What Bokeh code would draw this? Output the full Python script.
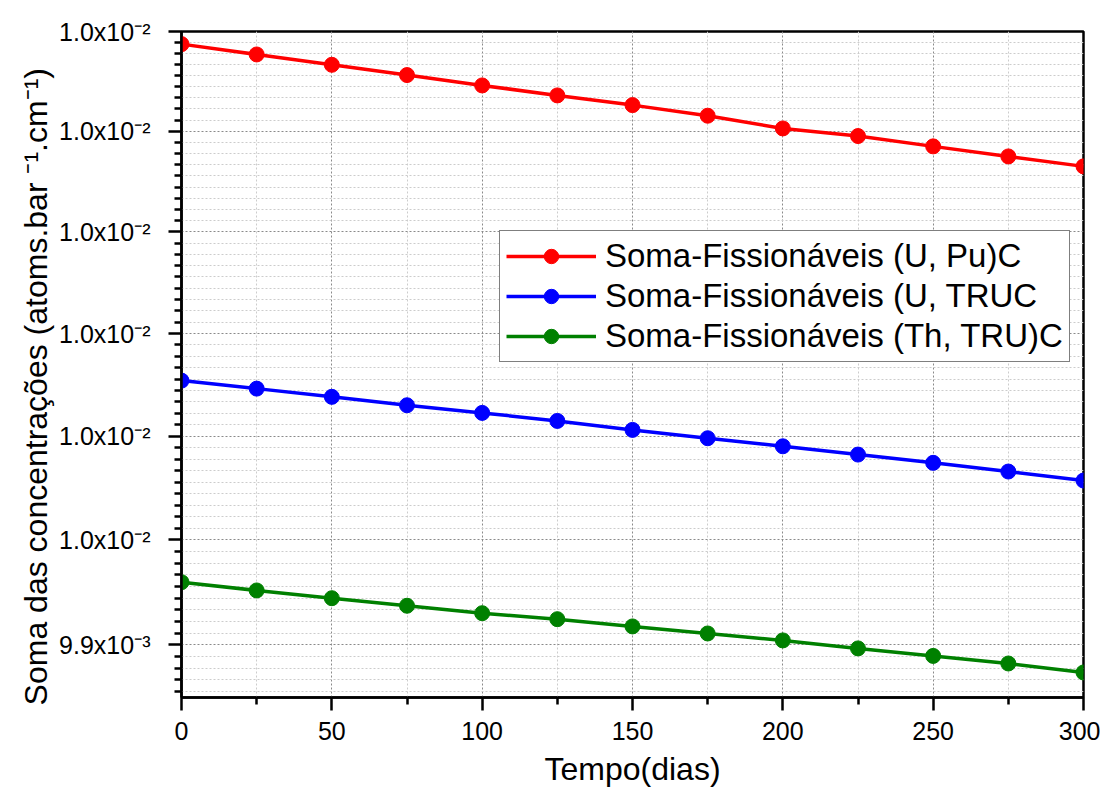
import numpy as np
from bokeh.plotting import figure
from bokeh.models import Range1d, FixedTicker, Legend, LegendItem
from bokeh.embed import file_html
from bokeh.resources import INLINE

# ---- data ----
tempo = [0, 25, 50, 75, 100, 125, 150, 175, 200, 225, 250, 275, 300]
soma_u_pu = [0.0104873, 0.0104769, 0.0104665, 0.0104562, 0.0104458, 0.0104358, 0.0104261,
             0.0104155, 0.0104028, 0.0103952, 0.0103849, 0.0103749, 0.0103650]
soma_u_tru = [0.0101541, 0.0101463, 0.0101383, 0.0101301, 0.0101227, 0.0101149, 0.0101062,
              0.0100981, 0.0100903, 0.0100823, 0.0100743, 0.0100659, 0.0100572]
soma_th_tru = [0.0099596, 0.0099517, 0.0099443, 0.0099371, 0.0099300, 0.0099243, 0.0099174,
               0.0099107, 0.0099041, 0.0098965, 0.0098894, 0.0098822, 0.0098737]

series_names = ["Soma-Fissionáveis (U, Pu)C", "Soma-Fissionáveis (U, TRUC", "Soma-Fissionáveis (Th, TRU)C"]
series_colors = ["#FF0000", "#0000FF", "#008000"]

x_ticks = [0, 50, 100, 150, 200, 250, 300]
x_minor = [25, 75, 125, 175, 225, 275]
y_ticks = [0.0099, 0.0100, 0.0101, 0.0102, 0.0103, 0.0104, 0.0105]
y_tick_labels = ["9.9x10⁻³", "1.0x10⁻²", "1.0x10⁻²", "1.0x10⁻²", "1.0x10⁻²", "1.0x10⁻²", "1.0x10⁻²"]

x_title = "Tempo(dias)"
y_title = "Soma das concentrações (atoms.bar ⁻¹.cm⁻¹)" + "\u00a0" * 5

# ---- figure ----
FONT = "Liberation Sans"
p = figure(width=1100, height=793, y_axis_type="log",
           x_range=Range1d(0, 300), y_range=Range1d(0.00985, 0.0105),
           output_backend="svg", toolbar_location=None,
           min_border_left=181, min_border_right=17, min_border_top=31, min_border_bottom=96)

# minor ticks on the y axis: 8 per major interval (linear in value)
step = 0.0001 / 9
y_minor = []
for m in y_ticks[:-1]:
    y_minor += [m + k * step for k in range(1, 9)]
y_minor += [y_ticks[0] - k * step for k in range(1, 5)]

p.xaxis.ticker = FixedTicker(ticks=x_ticks, minor_ticks=x_minor)
p.yaxis.ticker = FixedTicker(ticks=y_ticks, minor_ticks=y_minor)
p.yaxis.major_label_overrides = {v: l for v, l in zip(y_ticks, y_tick_labels)}

for ax in (p.xaxis, p.yaxis):
    ax.axis_line_width = 2.5
    ax.axis_line_color = "black"
    ax.major_tick_line_width = 2.5
    ax.minor_tick_line_width = 2.5
    ax.major_tick_in = 0
    ax.minor_tick_in = 0
    ax.major_tick_out = 13
    ax.minor_tick_out = 7
    ax.major_label_text_font = FONT
    ax.major_label_text_font_size = "25px"
    ax.major_label_text_color = "black"
    ax.axis_label_text_font = FONT
    ax.axis_label_text_font_style = "normal"
    ax.axis_label_text_color = "black"

p.xaxis.major_label_standoff = 11
p.yaxis.major_label_standoff = 18

p.xaxis.axis_label = x_title
p.xaxis.axis_label_text_font_size = "32px"
p.xaxis.axis_label_standoff = 8
p.yaxis.axis_label = y_title
p.yaxis.axis_label_text_font_size = "32px"
p.yaxis.axis_label_standoff = 2

for g in (p.xgrid, p.ygrid):
    g.grid_line_color = "#8a8a8a"
    g.grid_line_dash = "2 2"
    g.grid_line_width = 1
    g.minor_grid_line_color = "#cccccc"
    g.minor_grid_line_dash = "2 2"
    g.minor_grid_line_width = 1

p.outline_line_color = "black"
p.outline_line_width = 2.5
p.outline_line_alpha = 1

items = []
for name, col, ys in zip(series_names, series_colors, [soma_u_pu, soma_u_tru, soma_th_tru]):
    l = p.line(tempo, ys, line_color=col, line_width=3.5)
    s = p.scatter(tempo, ys, size=15, fill_color=col, line_color=col)
    items.append(LegendItem(label=name, renderers=[l, s]))

legend = Legend(items=items, location=(318, 335), margin=0, padding=6, spacing=2,
                glyph_width=90, glyph_height=36, label_height=36, label_standoff=9,
                label_text_font=FONT, label_text_font_size="33px", label_text_color="black",
                border_line_color="black", border_line_width=1.5,
                background_fill_color="white", background_fill_alpha=1)
p.add_layout(legend)

open("out.html", "w").write(file_html(p, INLINE))
